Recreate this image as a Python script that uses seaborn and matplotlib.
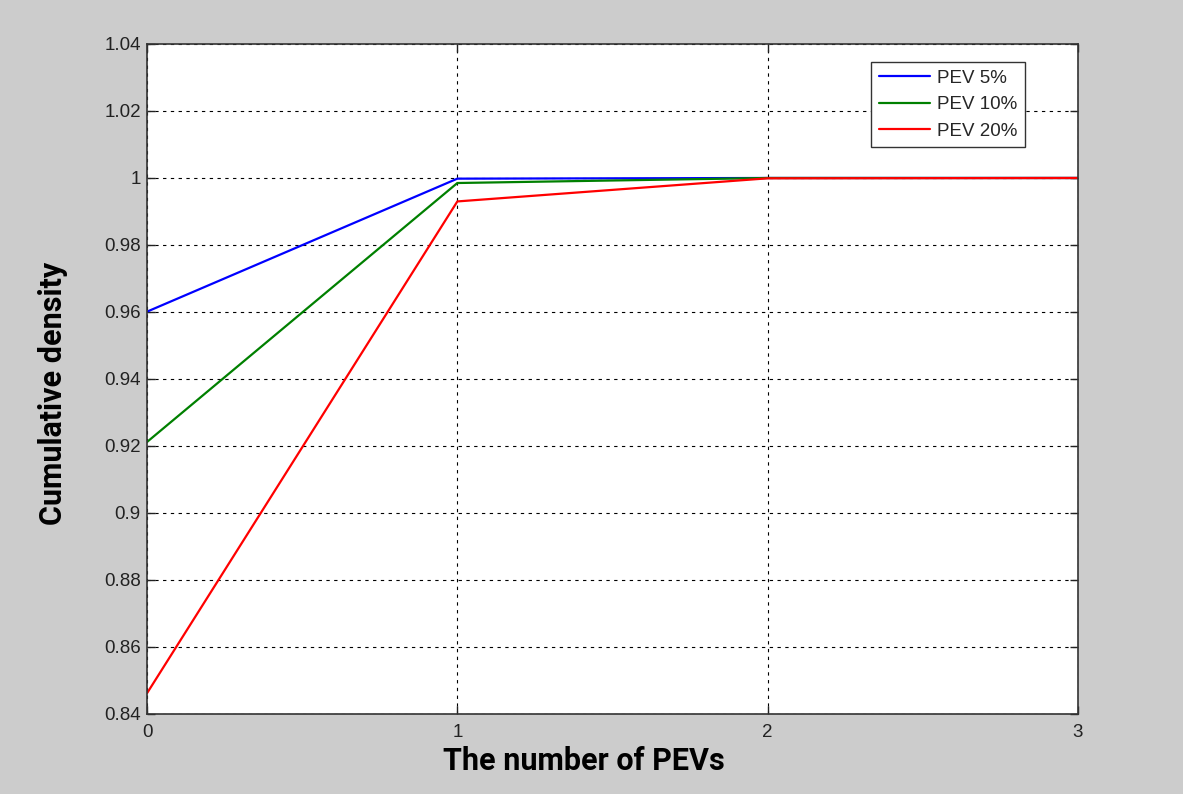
import matplotlib
matplotlib.use("Agg")
import matplotlib.pyplot as plt
import seaborn as sns
import pandas as pd

x_vals = [0, 1, 2, 3]
pev5 = [0.9601, 0.9998, 1.0, 1.0]
pev10 = [0.9212, 0.9985, 1.0, 1.0]
pev20 = [0.8462, 0.9930, 0.9999, 1.0]
series_names = ["PEV 5%", "PEV 10%", "PEV 20%"]
colors = ["#0000ff", "#008000", "#ff0000"]
x_ticks = [0, 1, 2, 3]
y_ticks = [0.84, 0.86, 0.88, 0.90, 0.92, 0.94, 0.96, 0.98, 1.00, 1.02, 1.04]
y_tick_labels = ["0.84", "0.86", "0.88", "0.9", "0.92", "0.94", "0.96", "0.98", "1", "1.02", "1.04"]

df = pd.DataFrame({
    "x": x_vals * 3,
    "y": pev5 + pev10 + pev20,
    "series": [series_names[0]] * 4 + [series_names[1]] * 4 + [series_names[2]] * 4,
})

sns.set_style("white")
plt.rcParams['font.family'] = ['Liberation Sans', 'DejaVu Sans']

label_family = ["Roboto", "DejaVu Sans"]
label_size = 22

fig = plt.figure(figsize=(11.83, 7.94), dpi=100, facecolor="#cccccc")
ax = fig.add_axes([0.1243, 0.1008, 0.7869, 0.8438])
ax.set_facecolor("white")

sns.lineplot(data=df, x="x", y="y", hue="series", palette=colors,
             hue_order=series_names, ax=ax, linewidth=1.6, legend=True)

ax.set_xlim(0, 3)
ax.set_ylim(0.84, 1.04)
ax.set_xticks(x_ticks)
ax.set_xticklabels([str(t) for t in x_ticks])
ax.set_yticks(y_ticks)
ax.set_yticklabels(y_tick_labels)
ax.tick_params(axis="both", labelsize=13.5, colors="#222222", direction="in", length=6,
               width=1, left=True, bottom=True, top=True, right=True)
ax.tick_params(axis="x", pad=7)
ax.tick_params(axis="y", pad=4.5)
ax.grid(True, color="black", linestyle=(0, (3, 4)), linewidth=0.8)
for s in ax.spines.values():
    s.set_color("#333333")
    s.set_linewidth(1.2)

ax.set_xlabel("The number of PEVs", fontsize=label_size, fontweight="bold",
              family=label_family, color="black")
ax.set_ylabel("Cumulative density", fontsize=label_size, fontweight="bold",
              family=label_family, color="black")
ax.xaxis.set_label_coords((584 - 147) / 931, -(761 - 714) / 670)
ax.yaxis.set_label_coords(-(147 - 53) / 931, (714 - 393) / 670)
ax.xaxis.label.set_verticalalignment("center")
ax.yaxis.label.set_verticalalignment("center")

leg = ax.legend(loc="upper right", bbox_to_anchor=((1025 - 147) / 931, (714 - 62) / 670),
                borderaxespad=0, fontsize=13.5,
                frameon=True, fancybox=False, edgecolor="#333333", framealpha=1,
                handlelength=2.7, borderpad=0.4, labelspacing=0.5, handletextpad=0.4)
leg.get_frame().set_linewidth(1.0)
leg.set_title(None)

fig.savefig("out.png", dpi=100, facecolor=fig.get_facecolor())
